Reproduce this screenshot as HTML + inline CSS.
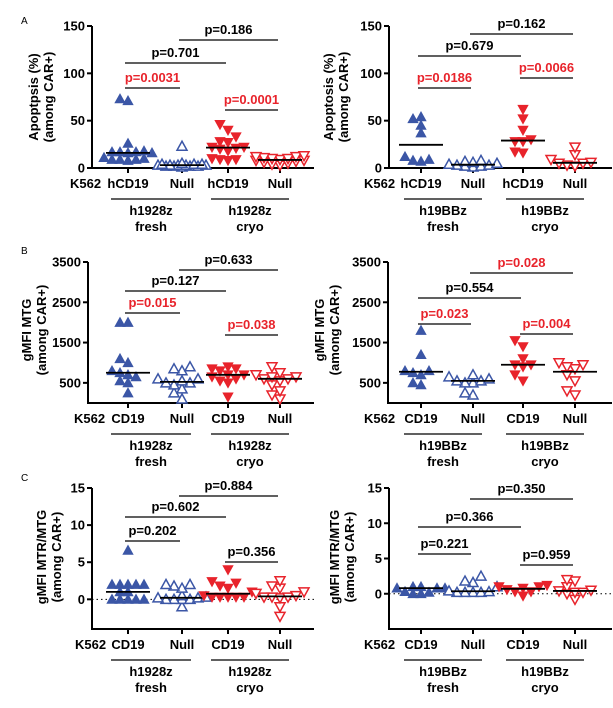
<!DOCTYPE html>
<html><head><meta charset="utf-8"><style>
html,body{margin:0;padding:0;background:#fff;}
svg{display:block;font-family:"Liberation Sans",Arial,sans-serif;}
text{font-weight:bold;}
</style></head><body>
<svg id="fig" width="613" height="708" viewBox="0 0 613 708"></svg>
<script>
// ---- data arrays ----
const A1_freshCD19=[71,73,26,17,17,16,17,18,10,9,9,8,9,11,16];
const A1_freshNull=[23,5,4,3,2,3,4,2,3,1,2,3,4,2,3];
const A1_cryoCD19=[46,40,33,27,28,22,22,20,21,18,10,9,9,8];
const A1_cryoNull=[12,10,13,9,11,8,7,5,4,6,3,10,8,12];
const A2_freshCD19=[52,54,45,37,12,8,7,9];
const A2_freshNull=[5,7,8,6,3,2,4,2,1,3];
const A2_cryoCD19=[62,52,40,30,28,28,17,16];
const A2_cryoNull=[22,14,9,6,5,3,2,5];
const B1_freshCD19=[2000,2000,1100,1000,750,800,700,650,550,250,500];
const B1_freshNull=[900,850,800,600,600,550,500,500,450,350,250,100];
const B1_cryoCD19=[900,850,850,800,700,700,650,600,550,500,150];
const B1_cryoNull=[900,750,700,650,650,600,600,550,450,300,200,100];
const B2_freshCD19=[1800,1200,800,800,700,750,500,450];
const B2_freshNull=[700,650,600,550,550,500,250,200,500];
const B2_cryoCD19=[1550,1400,1100,950,900,950,700,550];
const B2_cryoNull=[1000,950,900,850,700,550,300,200];
const C1_freshCD19=[6.6,2,2,2,2,1,1,0,0,0,0,0,2];
const C1_freshNull=[2,2,1.8,1.5,0.5,0.3,0.2,0,0,0,0,-1,0.2];
const C1_cryoCD19=[4,2.4,2.2,1.8,1.5,1,0.5,0.3,0.3,0.3,0.3,0.3];
const C1_cryoNull=[2.5,1.8,1.5,1,0.8,0.5,0.3,0.3,0.2,0.3,-1,-2.3];
const C2_freshCD19=[1,1,0.8,0.8,0.8,0.3,0.2,0,0];
const C2_freshNull=[2.5,1.8,1.6,1,0.4,0.3,0.2,0.2,0.2,0.2];
const C2_cryoCD19=[1.2,1,0.8,1,0.6,0.3,0.3,-0.3];
const C2_cryoNull=[2,1.8,1,0.5,0.4,0.2,0.2,0,-0.8];
const A_ticks=[0,50,100,150];
const B_ticks=[500,1500,2500,3500];
const C_ticks=[0,5,10,15];
const A1_pvals=["p=0.0031","p=0.701","p=0.186","p=0.0001"];
const A2_pvals=["p=0.0186","p=0.679","p=0.162","p=0.0066"];
const B1_pvals=["p=0.015","p=0.127","p=0.633","p=0.038"];
const B2_pvals=["p=0.023","p=0.554","p=0.028","p=0.004"];
const C1_pvals=["p=0.202","p=0.602","p=0.884","p=0.356"];
const C2_pvals=["p=0.221","p=0.366","p=0.350","p=0.959"];

const NS="http://www.w3.org/2000/svg";
const svg=document.getElementById('fig');
const BLUE="#3b56a6", RED="#e8232b";
function mk(tag,attrs,parent,txt){const e=document.createElementNS(NS,tag);for(const k in attrs)e.setAttribute(k,attrs[k]);if(txt!==undefined)e.textContent=txt;(parent||svg).appendChild(e);return e;}
function median(a){const s=[...a].sort((x,y)=>x-y);const n=s.length;return n%2?s[(n-1)/2]:(s[n/2-1]+s[n/2])/2;}

function panel(cfg){
  const g=mk('g',{});
  
  
  const y=v=>cfg.y0-(v-cfg.vmin)/(cfg.vmax-cfg.vmin)*(cfg.y0-cfg.ytop);
  const ya=mk('line',{x1:cfg.ax,y1:cfg.ytop,x2:cfg.ax,y2:cfg.y0+1,stroke:'#000','stroke-width':2},g);
  
  const xa=mk('line',{x1:cfg.ax-1,y1:cfg.y0,x2:cfg.xend,y2:cfg.y0,stroke:'#000','stroke-width':2},g);
  
  cfg.ticks.forEach(t=>{
    mk('line',{x1:cfg.ax-5,y1:y(t),x2:cfg.ax,y2:y(t),stroke:'#000','stroke-width':2},g);
    const tl=mk('text',{x:cfg.ax-7,y:y(t)+4.5,'text-anchor':'end','font-size':13},g,String(t));
    
  });
  if(cfg.zeroLine){
    const zl=mk('line',{x1:cfg.ax,y1:y(0),x2:cfg.xend,y2:y(0),stroke:'#000','stroke-width':1,'stroke-dasharray':'1.5,3'},g);
    
  }
  const tt=mk('text',{transform:`translate(${cfg.tx},${cfg.ty}) rotate(-90)`,'text-anchor':'middle','font-size':13},g);
  
  mk('tspan',{x:0,y:0},tt,cfg.title[0]);
  mk('tspan',{x:0,dy:15},tt,cfg.title[1]);
  const gx=cfg.gx;
  cfg.data.forEach((vals,i)=>{
    const cx=gx[i];
    mk('line',{x1:cx,y1:cfg.y0,x2:cx,y2:cfg.y0+5,stroke:'#000','stroke-width':2},g);
    const col=i<2?BLUE:RED, filled=i%2===0, up=i<2;
    const placed=[];
    const order=vals.map((v,k)=>k).sort((a,b)=>vals[a]-vals[b]);
    const cands=[0,-8,8,-16,16,-24,24,-4,4,-12,12,-20,20];
    order.forEach(k=>{
      const py=y(vals[k]);
      let off=null,best=-1,bestO=0;
      for(const o of cands){
        let md=1e9;
        placed.forEach(p=>{md=Math.min(md,Math.max(Math.abs(p[0]-(cx+o))/8,Math.abs(p[1]-py)/7));});
        if(md>=1){off=o;break;}
        if(md>best){best=md;bestO=o;}
      }
      if(off===null)off=bestO;
      const px=cx+off; placed.push([px,py]);
      const h=8,w=5;
      const pts=up?`${px},${py-h/2-1} ${px-w},${py+h/2} ${px+w},${py+h/2}`:`${px},${py+h/2+1} ${px-w},${py-h/2} ${px+w},${py-h/2}`;
      const m=mk('polygon',{points:pts,fill:filled?col:'#fff',stroke:col,'stroke-width':filled?0.8:1.5},g);
      
      
    });
    const md=y(median(vals));
    const ml=mk('line',{x1:cx-22,y1:md,x2:cx+22,y2:md,stroke:'#000','stroke-width':1.8},g);
    
    const xl=mk('text',{x:cx,y:cfg.y0+20,'text-anchor':'middle','font-size':13},g,cfg.xlab[i]);
    
  });
  const k=mk('text',{x:cfg.kx,y:cfg.y0+20,'font-size':13},g,'K562');
  
  [[0,1],[2,3]].forEach((pr,j)=>{
    const x1=gx[pr[0]]-17,x2=gx[pr[1]]+9;
    mk('line',{x1:x1,y1:cfg.y0+31,x2:x2,y2:cfg.y0+31,stroke:'#000','stroke-width':1.2},g);
    const c=(x1+x2)/2;
    const gl=mk('text',{x:c,y:cfg.y0+47,'text-anchor':'middle','font-size':13},g,cfg.car);
    
    const sl=mk('text',{x:c,y:cfg.y0+63,'text-anchor':'middle','font-size':13},g,j?'cryo':'fresh');
    
  });
  const pairs=[[0,1],[0,2],[1,3],[2,3]];
  pairs.forEach((pr,j)=>{
    const ly=cfg.py[j];
    const x1=gx[pr[0]]-3,x2=gx[pr[1]]-2;
    mk('line',{x1:x1,y1:ly,x2:x2,y2:ly,stroke:'#000','stroke-width':1.3},g);
    const txt=cfg.pv[j];
    const pvNum=parseFloat(txt.slice(2));
    const pt=mk('text',{x:(x1+x2)/2,y:ly-6,'text-anchor':'middle','font-size':13,fill:pvNum<0.05?RED:'#000'},g,txt);
    
  });
}

const L={ax:92,gx:[128,182,228,280],kx:72,xend:314};
const R={ax:389,gx:[421,473,523,575],kx:364,xend:612};

panel(Object.assign({},L,{kx:70,name:'panel-a-h1928z',ytop:26,y0:168,vmin:0,vmax:150,ticks:A_ticks,tx:38,ty:97,title:['Apoptpsis (%)','(among CAR+)'],
  data:[A1_freshCD19,A1_freshNull,A1_cryoCD19,A1_cryoNull],xlab:['hCD19','Null','hCD19','Null'],car:'h1928z',pv:A1_pvals,py:[88,63,40,110]}));
panel(Object.assign({},R,{name:'panel-a-h19bbz',ytop:26,y0:168,vmin:0,vmax:150,ticks:A_ticks,tx:333,ty:97,title:['Apoptosis (%)','(among CAR+)'],
  data:[A2_freshCD19,A2_freshNull,A2_cryoCD19,A2_cryoNull],xlab:['hCD19','Null','hCD19','Null'],car:'h19BBz',pv:A2_pvals,py:[88,56,34,78]}));
panel(Object.assign({},L,{ax:88,kx:74,name:'panel-b-h1928z',ytop:262,y0:403,vmin:0,vmax:3500,ticks:B_ticks,tx:31,ty:330,title:['gMFI MTG','(among CAR+)'],
  data:[B1_freshCD19,B1_freshNull,B1_cryoCD19,B1_cryoNull],xlab:['CD19','Null','CD19','Null'],car:'h1928z',pv:B1_pvals,py:[313,291,270,335]}));
panel(Object.assign({},R,{ax:388,name:'panel-b-h19bbz',ytop:262,y0:403,vmin:0,vmax:3500,ticks:B_ticks,tx:324,ty:330,title:['gMFI MTG','(among CAR+)'],
  data:[B2_freshCD19,B2_freshNull,B2_cryoCD19,B2_cryoNull],xlab:['CD19','Null','CD19','Null'],car:'h19BBz',pv:B2_pvals,py:[324,298,273,334]}));
panel(Object.assign({},L,{kx:75,name:'panel-c-h1928z',ytop:488,y0:629,vmin:-4,vmax:15,ticks:C_ticks,zeroLine:true,tx:46,ty:557,title:['gMFI MTR/MTG','(among CAR+)'],
  data:[C1_freshCD19,C1_freshNull,C1_cryoCD19,C1_cryoNull],xlab:['CD19','Null','CD19','Null'],car:'h1928z',pv:C1_pvals,py:[541,517,496,562]}));
panel(Object.assign({},R,{name:'panel-c-h19bbz',ytop:488,y0:629,vmin:-5,vmax:15,ticks:C_ticks,zeroLine:true,tx:339,ty:557,title:['gMFI MTR/MTG','(among CAR+)'],
  data:[C2_freshCD19,C2_freshNull,C2_cryoCD19,C2_cryoNull],xlab:['CD19','Null','CD19','Null'],car:'h19BBz',pv:C2_pvals,py:[554,527,499,565]}));

[['A',24],['B',254],['C',481]].forEach(p=>{
  const t=mk('text',{x:21,y:p[1],'font-size':10,style:'font-weight:normal'},svg,p[0]);
  
  
});
</script>
</body></html>
